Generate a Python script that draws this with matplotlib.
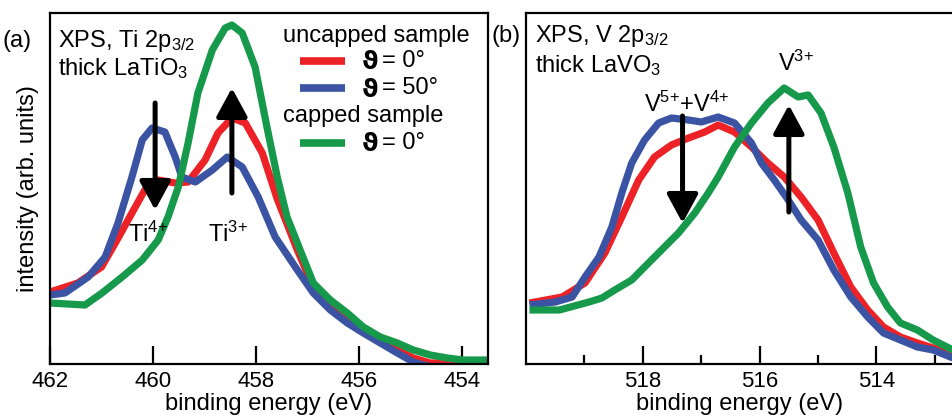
import matplotlib
matplotlib.use("Agg")
import matplotlib.pyplot as plt
import numpy as np

plt.rcParams['font.family'] = ['Liberation Sans', 'DejaVu Sans']
plt.rcParams['mathtext.fontset'] = 'custom'
plt.rcParams['mathtext.rm'] = 'Liberation Sans'
plt.rcParams['mathtext.it'] = 'Liberation Sans'

# ----------------------------
# Data, intensity in arb. units
# ----------------------------
ti_blue_ev = [462.00, 461.71, 461.26, 460.93, 460.68, 460.41, 460.21, 460.02, 459.77, 459.57,
              459.44, 459.18, 458.85, 458.56, 458.27, 457.96, 457.63, 457.20, 456.89, 456.56,
              456.23, 455.92, 455.59, 455.26, 454.95, 454.76, 454.43, 453.50]
ti_blue = [69, 71, 87, 107, 141, 187, 224, 236, 232, 207,
           187, 182, 194, 207, 197, 167, 127, 94, 71, 54,
           41, 31, 21, 11, 2, -1, -5, -8]

ti_red_ev = [462.00, 461.46, 461.00, 460.70, 460.41, 460.16, 459.90, 459.57, 459.32, 458.99,
             458.74, 458.47, 458.21, 457.88, 457.59, 457.20, 456.89, 456.56, 456.23, 455.92,
             455.59, 455.26, 454.95, 454.62, 453.98, 453.50]
ti_red = [72, 81, 97, 124, 151, 174, 184, 181, 182, 204,
          231, 246, 241, 211, 165, 114, 77, 61, 44, 34,
          24, 14, 6, 1, 1, 1]

ti_green_ev = [462.00, 461.32, 460.99, 460.60, 460.21, 459.90, 459.71, 459.51, 459.32, 459.13,
               458.85, 458.60, 458.47, 458.27, 458.02, 457.79, 457.59, 457.40, 457.20, 456.89,
               456.56, 456.23, 455.92, 455.59, 455.26, 454.95, 454.62, 454.29, 453.98, 453.50]
ti_green = [61, 59, 71, 87, 104, 124, 147, 177, 221, 271,
            314, 336, 339, 331, 297, 237, 187, 147, 121, 81,
            64, 51, 37, 27, 21, 14, 9, 6, 4, 4]

v_blue_ev = [519.94, 519.50, 519.21, 518.99, 518.75, 518.53, 518.36, 518.19, 517.97, 517.73,
             517.51, 517.22, 517.00, 516.71, 516.43, 516.14, 515.97, 515.75, 515.51, 515.29,
             515.00, 514.73, 514.44, 514.15, 513.88, 513.59, 513.30, 513.03, 512.69]
v_blue = [59, 62, 67, 87, 107, 137, 171, 201, 224, 241,
          246, 244, 242, 247, 241, 221, 201, 184, 164, 144,
          124, 94, 67, 47, 31, 24, 17, 14, 6]

v_red_ev = [519.94, 519.38, 518.99, 518.65, 518.36, 518.07, 517.80, 517.51, 517.22, 516.94,
            516.71, 516.43, 516.14, 515.86, 515.58, 515.29, 515.00, 514.73, 514.44, 514.15,
            513.88, 513.59, 513.30, 513.03, 512.69]
v_red = [61, 67, 81, 111, 147, 184, 207, 219, 226, 232,
         239, 232, 217, 201, 187, 167, 144, 111, 77, 54,
         37, 27, 21, 16, 11]

v_green_ev = [519.94, 519.43, 518.92, 518.70, 518.48, 518.19, 517.97, 517.68, 517.39, 517.11,
              516.88, 516.71, 516.43, 516.14, 515.86, 515.58, 515.34, 515.17, 514.95, 514.73,
              514.49, 514.27, 514.05, 513.81, 513.59, 513.30, 513.03, 512.69]
v_green = [54, 54, 62, 66, 74, 84, 97, 114, 131, 151,
           171, 187, 217, 241, 261, 276, 267, 269, 251, 217,
           171, 117, 81, 57, 41, 34, 24, 14]

ti_ticks = [462, 460, 458, 456, 454]
v_major = [518, 516, 514]
v_minor = [519, 517, 515, 513]

red = '#ec2227'
blue = '#3b53a3'
green = '#16994a'
lw = 5.2
fs = 17

fig = plt.figure(figsize=(9.53, 4.19), dpi=100)
ax1 = fig.add_axes([50/953, 55/419, 438/953, 351/419])
ax2 = fig.add_axes([526/953, 55/419, 427/953, 351/419])

for ax in (ax1, ax2):
    for s in ax.spines.values():
        s.set_linewidth(1.6)
    ax.set_ylim(0, 351)
    ax.set_yticks([])
    ax.tick_params(axis='x', direction='in', length=13, width=1.6,
                   labelsize=16, pad=5)
    ax.tick_params(axis='x', which='minor', direction='in', length=6.5, width=1.6)
    ax.set_xlabel('binding energy (eV)', fontsize=fs, labelpad=1)
ax2.spines['right'].set_visible(False)

# ----------------------------
# (a) Ti 2p3/2
# ----------------------------
kw = dict(lw=lw, solid_joinstyle='round', solid_capstyle='butt')
ax1.plot(ti_red_ev, ti_red, color=red, **kw)
ax1.plot(ti_blue_ev, ti_blue, color=blue, **kw)
ax1.plot(ti_green_ev, ti_green, color=green, **kw)
ax1.set_xlim(462, 453.5)
ax1.set_xticks(ti_ticks)
ax1.set_ylabel('intensity (arb. units)', fontsize=fs, labelpad=8)

arrow = dict(arrowstyle='-|>,head_length=1.25,head_width=0.68', lw=3.6, color='k',
             mutation_scale=14, shrinkA=0, shrinkB=0)
ax1.annotate('', xy=(459.96, 154), xytext=(459.96, 261), arrowprops=arrow)
ax1.annotate('', xy=(458.47, 276), xytext=(458.47, 171), arrowprops=arrow)
ax1.text(460.49, 122, r'Ti$^{4{+}}$', fontsize=fs, ha='left', va='baseline')
ax1.text(458.93, 122, r'Ti$^{3{+}}$', fontsize=fs, ha='left', va='baseline')

ax1.text(0.018, 0.903, r'XPS, Ti 2p$_{3/2}$', fontsize=fs, transform=ax1.transAxes,
         va='baseline')
ax1.text(0.018, 0.823, r'thick LaTiO$_3$', fontsize=fs, transform=ax1.transAxes,
         va='baseline')
fig.text(3/953, 1 - 47/419, '(a)', fontsize=fs, va='baseline')

# legend (manual)
ax1.text(0.532, 0.917, 'uncapped sample', fontsize=fs, transform=ax1.transAxes, va='baseline')
ax1.text(0.532, 0.689, 'capped sample', fontsize=fs, transform=ax1.transAxes, va='baseline')
for ypos, col, lab in [(0.863, red, '= 0°'), (0.786, blue, '= 50°'), (0.630, green, '= 0°')]:
    ax1.plot([0.571, 0.674], [ypos, ypos], color=col, lw=5.5, transform=ax1.transAxes,
             solid_capstyle='butt')
    ax1.text(0.712, ypos - 0.004, 'ϑ', fontsize=fs + 1, fontweight='bold',
             family=['DejaVu Sans'], transform=ax1.transAxes, va='center')
    ax1.text(0.757, ypos, lab, fontsize=fs, transform=ax1.transAxes, va='center')

# ----------------------------
# (b) V 2p3/2
# ----------------------------
ax2.plot(v_red_ev, v_red, color=red, **kw)
ax2.plot(v_blue_ev, v_blue, color=blue, **kw)
ax2.plot(v_green_ev, v_green, color=green, **kw)
ax2.set_xlim(520, 512.69)
ax2.set_xticks(v_major)
ax2.set_xticks(v_minor, minor=True)

ax2.annotate('', xy=(517.32, 141), xytext=(517.32, 248), arrowprops=arrow)
ax2.annotate('', xy=(515.50, 259), xytext=(515.50, 152), arrowprops=arrow)
ax2.text(517.98, 252, r'V$^{5{+}}$+V$^{4{+}}$', fontsize=fs, ha='left', va='baseline')
ax2.text(515.69, 293, r'V$^{3{+}}$', fontsize=fs, ha='left', va='baseline')

ax2.text(0.021, 0.917, r'XPS, V 2p$_{3/2}$', fontsize=fs, transform=ax2.transAxes,
         va='baseline')
ax2.text(0.021, 0.832, r'thick LaVO$_3$', fontsize=fs, transform=ax2.transAxes,
         va='baseline')
fig.text(492/953, 1 - 42/419, '(b)', fontsize=fs, va='baseline')

fig.savefig('out.png', dpi=100)
plt.close(fig)
